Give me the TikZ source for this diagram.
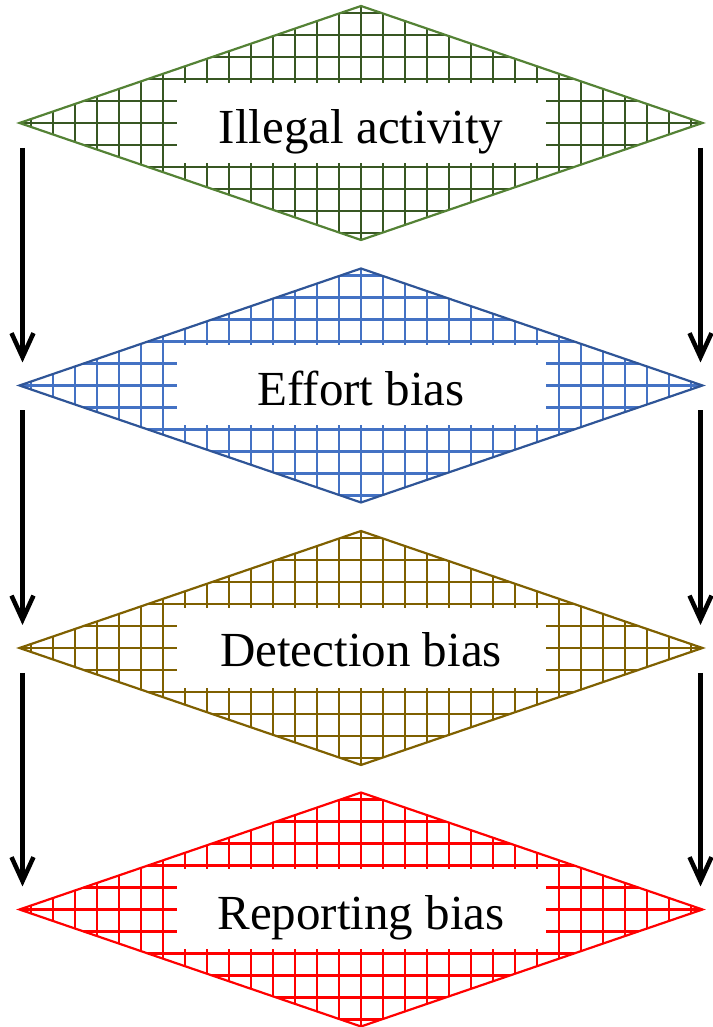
\documentclass[tikz,border=0pt]{standalone}
\usepackage{fontspec}
\setmainfont{Liberation Serif}
\usetikzlibrary{shapes.geometric,arrows.meta}
\definecolor{gOut}{HTML}{548235}
\definecolor{gGrid}{HTML}{385723}
\definecolor{bOut}{HTML}{2F5597}
\definecolor{bGrid}{HTML}{4472C4}
\definecolor{brOut}{HTML}{7F6000}
\definecolor{brGrid}{HTML}{7F6000}
\definecolor{rOut}{HTML}{FF0000}
\definecolor{rGrid}{HTML}{FF0000}
\tikzset{
  gridded/.style 2 args={
    shape=diamond, minimum width=683pt, minimum height=234pt,
    inner sep=0pt, outer sep=0pt, draw=#1, line width=2.2pt,
    path picture={
      \foreach \k in {-16,...,16}{
        \draw[#2,line width=2.6pt] ([xshift=\k*22pt,yshift=-130pt]path picture bounding box.center) -- ++(0,260pt);
      }
      \foreach \k in {-6,...,6}{
        \draw[#2,line width=2.6pt] ([xshift=-350pt,yshift=\k*22pt]path picture bounding box.center) -- ++(700pt,0);
      }
      \fill[white] ([shift={(-184.5pt,-40pt)}]path picture bounding box.center) rectangle ++(369.5pt,80pt);
    }
  },
  lbl/.style={anchor=base, font=\fontsize{49}{58}\selectfont, inner sep=0pt},
  arr/.style={line width=4.5pt, -{Straight Barb[length=24pt,width=22pt]}}
}
\begin{document}
\begin{tikzpicture}[x=1pt,y=1pt]
\useasboundingbox (0,0) rectangle (712,1027);
\node[gridded={gOut}{gGrid}] (d1) at (361,904) {};
\node[gridded={bOut}{bGrid}] (d2) at (361,641.5) {};
\node[gridded={brOut}{brGrid}] (d3) at (361,379) {};
\node[gridded={rOut}{rGrid}] (d4) at (361,117.5) {};
\node[lbl] (t1) at ([yshift=-21pt]d1.center) {Illegal activity};
\node[lbl] (t2) at ([yshift=-20pt]d2.center) {Effort bias};
\node[lbl] (t3) at ([yshift=-19pt]d3.center) {Detection bias};
\node[lbl] (t4) at ([yshift=-20pt]d4.center) {Reporting bias};
\foreach \a/\b in {d1/d2,d2/d3,d3/d4}{
  \draw[arr] ([shift={(3pt,-25pt)}]\a.west) -- ([shift={(3pt,23pt)}]\b.west);
  \draw[arr] ([shift={(-2pt,-25pt)}]\a.east) -- ([shift={(-2pt,23pt)}]\b.east);
}
\end{tikzpicture}
\end{document}
